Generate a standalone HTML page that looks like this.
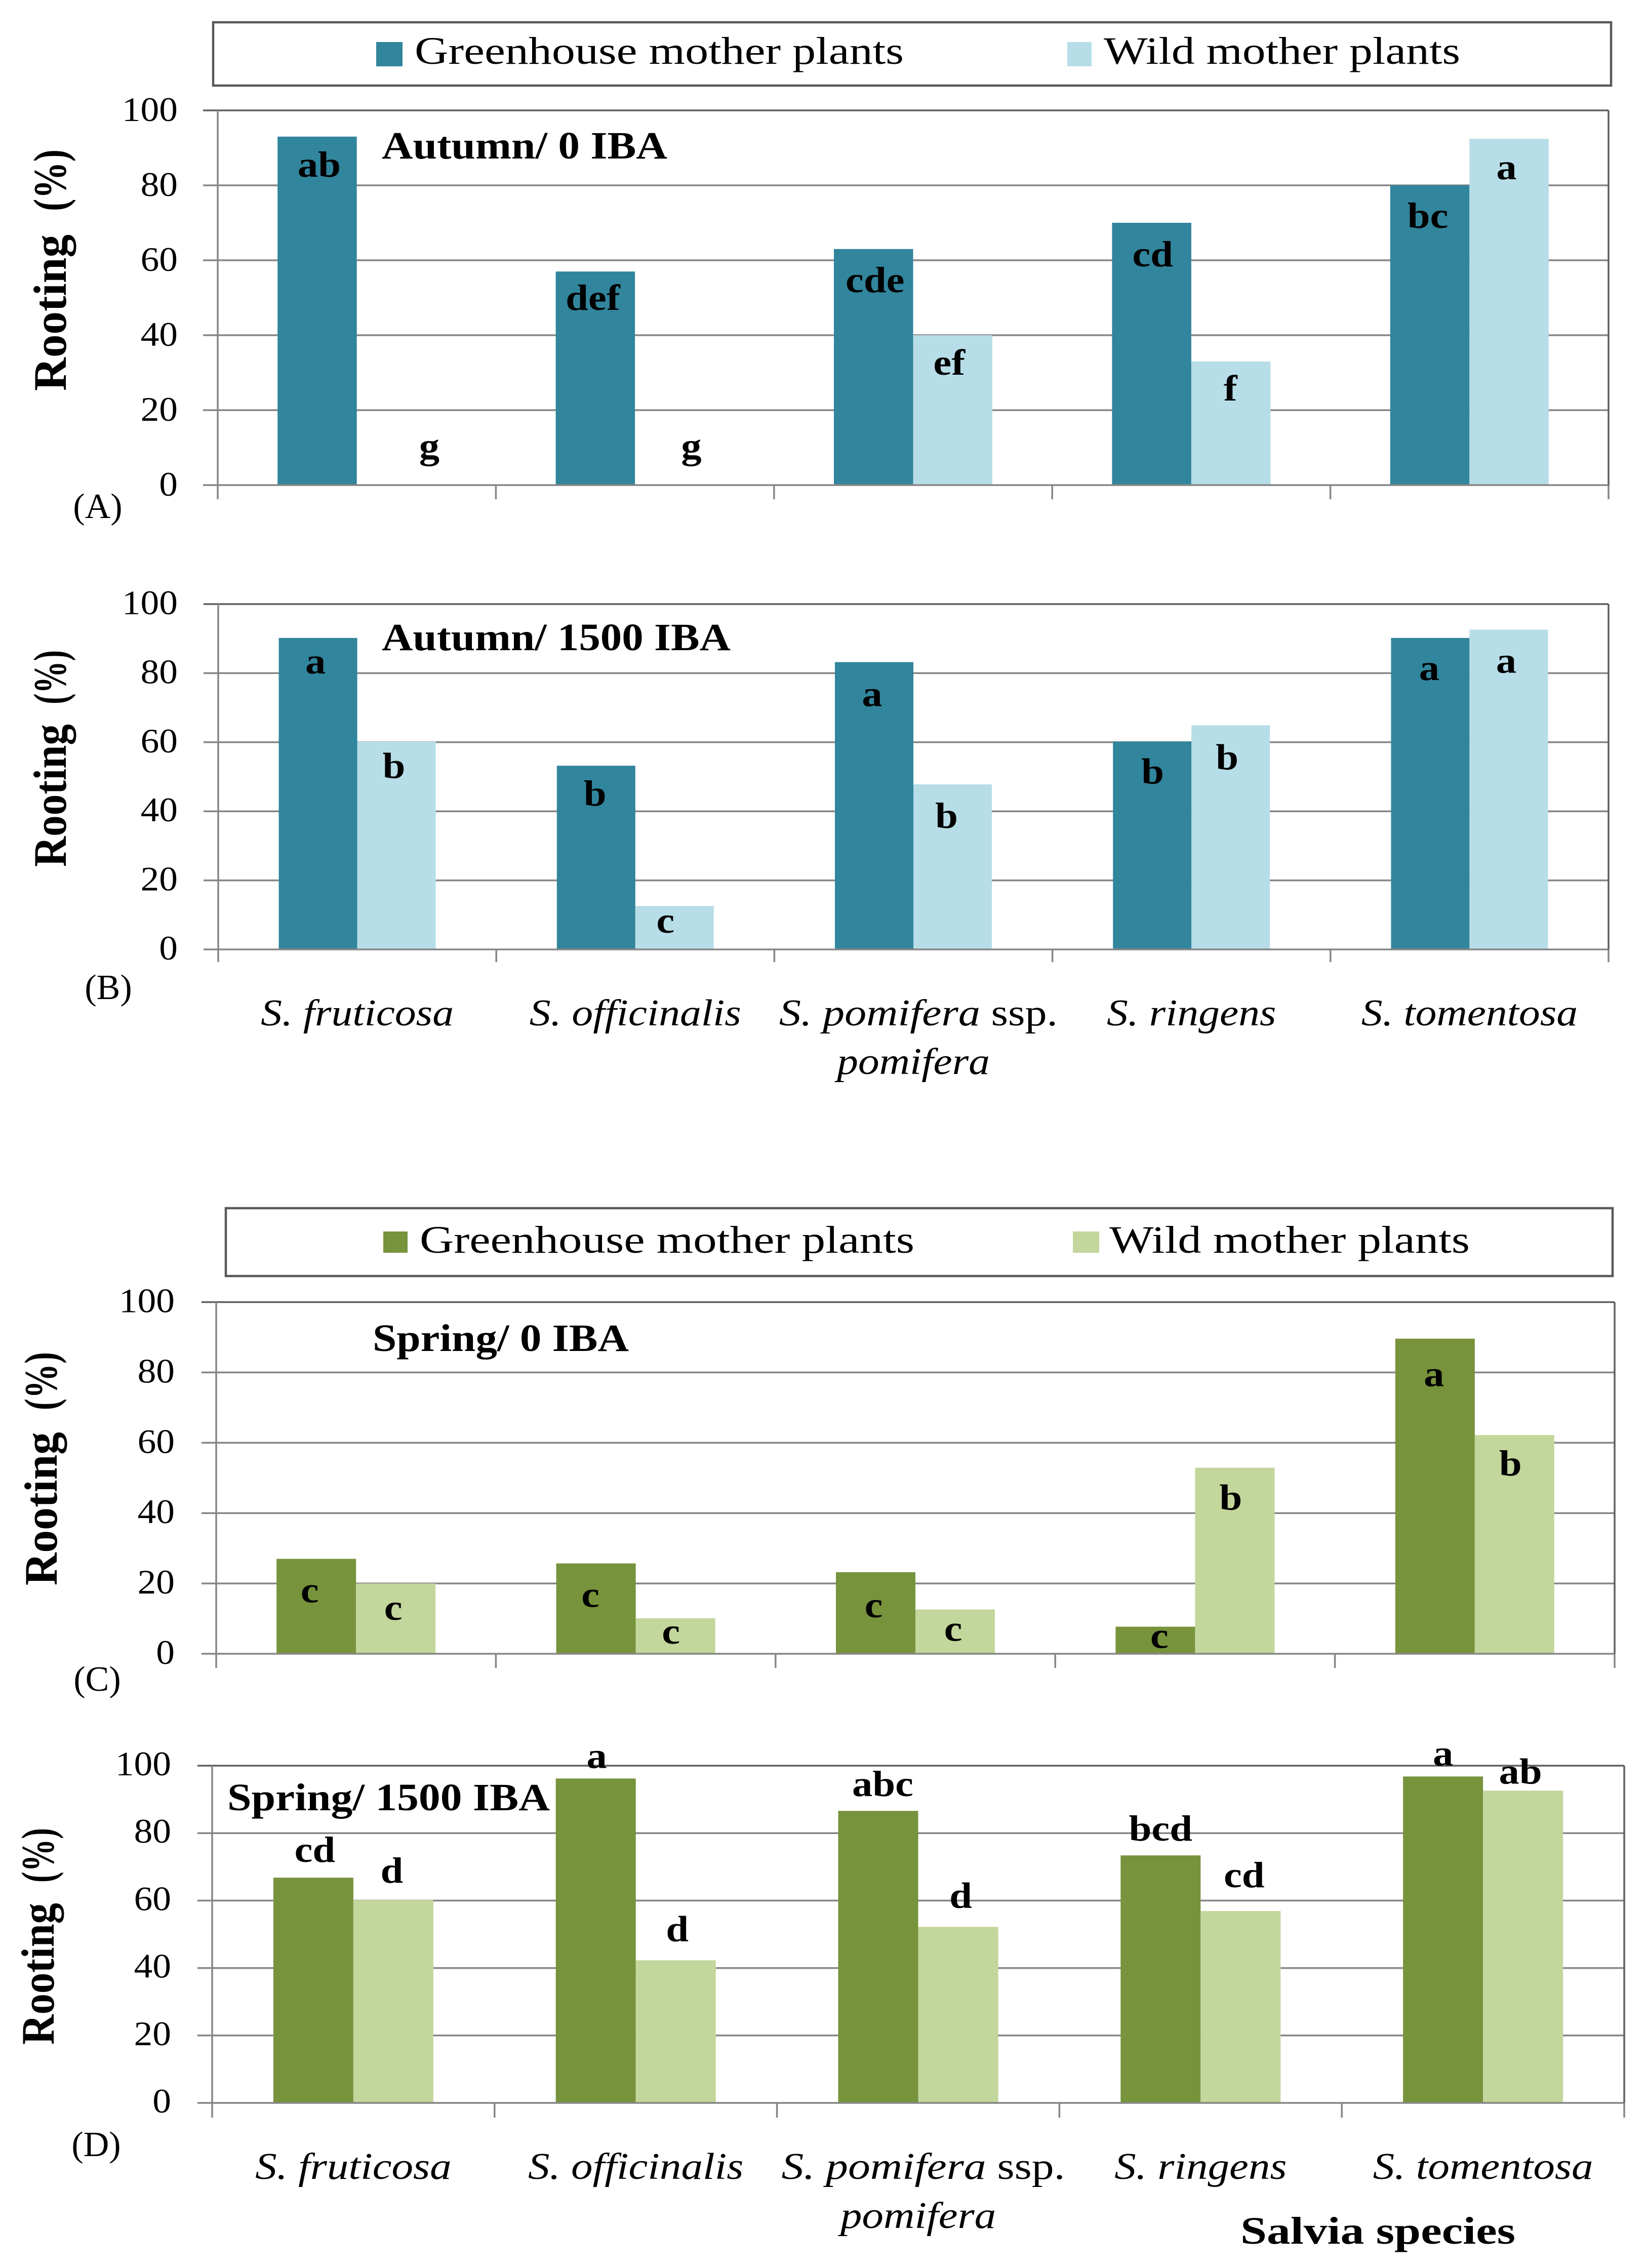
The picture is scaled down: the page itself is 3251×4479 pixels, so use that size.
<!DOCTYPE html>
<html lang="en">
<head>
<meta charset="utf-8">
<title>Rooting percentage of Salvia species</title>
<style>
  html, body { margin: 0; padding: 0; background: #ffffff; }
  svg { display: block; }
  text { font-family: "Liberation Serif", serif; fill: #000000; }
  .legend-text { font-size: 76px; }
  .panel-title { font-size: 76px; font-weight: bold; }
  .panel-tag { font-size: 70px; }
  .y-title { font-size: 92px; font-weight: bold; }
</style>
</head>
<body>
<svg id="figure" xmlns="http://www.w3.org/2000/svg" width="3251" height="4479" viewBox="0 0 3251 4479">
  <rect x="0" y="0" width="3251" height="4479" fill="#ffffff"/>

  <g>
    <rect x="421" y="44" width="2761" height="125" fill="#ffffff" stroke="#595959" stroke-width="4.5"/>
    <rect x="743" y="83" width="52" height="48" fill="#31859C"/>
    <text class="legend-text" x="819" y="126" textLength="966" lengthAdjust="spacingAndGlyphs">Greenhouse mother plants</text>
    <rect x="2108" y="83" width="48" height="48" fill="#B7DDE8"/>
    <text class="legend-text" x="2180" y="126" textLength="704" lengthAdjust="spacingAndGlyphs">Wild mother plants</text>
  </g>

  <g>
    <rect x="446" y="2386" width="2739" height="134" fill="#ffffff" stroke="#595959" stroke-width="4.5"/>
    <rect x="757" y="2432" width="48" height="42" fill="#77933C"/>
    <text class="legend-text" x="829" y="2474" textLength="977" lengthAdjust="spacingAndGlyphs">Greenhouse mother plants</text>
    <rect x="2119" y="2432" width="52" height="42" fill="#C3D69B"/>
    <text class="legend-text" x="2191" y="2474" textLength="712" lengthAdjust="spacingAndGlyphs">Wild mother plants</text>
  </g>

  <g id="panels"></g>

  <g>
    <text class="panel-title" x="754" y="313" textLength="564" lengthAdjust="spacingAndGlyphs">Autumn/ 0 IBA</text>
    <text class="panel-title" x="754" y="1284" textLength="689" lengthAdjust="spacingAndGlyphs">Autumn/ 1500 IBA</text>
    <text class="panel-title" x="736" y="2668" textLength="506" lengthAdjust="spacingAndGlyphs">Spring/ 0 IBA</text>
    <text class="panel-title" x="449" y="3575" textLength="637" lengthAdjust="spacingAndGlyphs">Spring/ 1500 IBA</text>

    <text class="panel-tag" x="193" y="1023" text-anchor="middle">(A)</text>
    <text class="panel-tag" x="214" y="1973" text-anchor="middle">(B)</text>
    <text class="panel-tag" x="192" y="3339" text-anchor="middle">(C)</text>
    <text class="panel-tag" x="190" y="4258" text-anchor="middle">(D)</text>

    <g>
      <text class="y-title" transform="translate(130,772) rotate(-90)" textLength="309" lengthAdjust="spacingAndGlyphs">Rooting</text>
      <text class="y-title" transform="translate(130,417) rotate(-90)" textLength="122" lengthAdjust="spacingAndGlyphs">(%)</text>
    </g>
    <g>
      <text class="y-title" transform="translate(130,1712) rotate(-90)" textLength="282" lengthAdjust="spacingAndGlyphs">Rooting</text>
      <text class="y-title" transform="translate(130,1391) rotate(-90)" textLength="107" lengthAdjust="spacingAndGlyphs">(%)</text>
    </g>
    <g>
      <text class="y-title" transform="translate(112,3131) rotate(-90)" textLength="303" lengthAdjust="spacingAndGlyphs">Rooting</text>
      <text class="y-title" transform="translate(112,2785) rotate(-90)" textLength="115" lengthAdjust="spacingAndGlyphs">(%)</text>
    </g>
    <g>
      <text class="y-title" transform="translate(106,4038) rotate(-90)" textLength="280" lengthAdjust="spacingAndGlyphs">Rooting</text>
      <text class="y-title" transform="translate(106,3718) rotate(-90)" textLength="108" lengthAdjust="spacingAndGlyphs">(%)</text>
    </g>

    <text class="panel-title" x="2450" y="4431" textLength="543" lengthAdjust="spacingAndGlyphs">Salvia species</text>
  </g>
</svg>

<script>
// ---- chart data ----
const categories = ["S. fruticosa", "S. officinalis", "S. pomifera ssp. pomifera", "S. ringens", "S. tomentosa"];
const yTicks = [0, 20, 40, 60, 80, 100];

const autumn0Greenhouse = [93, 57, 63, 70, 80];
const autumn0Wild = [0, 0, 40, 33, 92.4];
const autumn0GreenhouseLetters = ["ab", "def", "cde", "cd", "bc"];
const autumn0WildLetters = ["g", "g", "ef", "f", "a"];

const autumn1500Greenhouse = [90.2, 53.2, 83.2, 60.2, 90.2];
const autumn1500Wild = [60.2, 12.6, 47.8, 64.9, 92.6];
const autumn1500GreenhouseLetters = ["a", "b", "a", "b", "a"];
const autumn1500WildLetters = ["b", "c", "b", "b", "a"];

const spring0Greenhouse = [27, 25.7, 23.2, 7.7, 89.6];
const spring0Wild = [20, 10.1, 12.6, 52.9, 62.2];
const spring0GreenhouseLetters = ["c", "c", "c", "c", "a"];
const spring0WildLetters = ["c", "c", "c", "b", "b"];

const spring1500Greenhouse = [66.8, 96.2, 86.6, 73.4, 96.8];
const spring1500Wild = [60.2, 42.3, 52.2, 56.9, 92.6];
const spring1500GreenhouseLetters = ["cd", "a", "abc", "bcd", "a"];
const spring1500WildLetters = ["d", "d", "d", "cd", "ab"];

// ---- drawing ----
const SVG_NS = "http://www.w3.org/2000/svg";
const panelsRoot = document.getElementById("panels");
const GRID = "#868686";
const FRAME = "#5f5f5f";

function makeLine(parent, x1, y1, x2, y2, color, width, name) {
  const el = document.createElementNS(SVG_NS, "line");
  el.setAttribute("x1", x1);
  el.setAttribute("y1", y1);
  el.setAttribute("x2", x2);
  el.setAttribute("y2", y2);
  el.setAttribute("stroke", color);
  el.setAttribute("stroke-width", width);
  
  
  parent.appendChild(el);
  return el;
}

function makeText(parent, str, x, y, size, stretch, bold, italic, anchor, name) {
  const el = document.createElementNS(SVG_NS, "text");
  el.setAttribute("transform", "translate(" + x + "," + y + ") scale(" + stretch + ",1)");
  el.setAttribute("font-size", size);
  el.setAttribute("text-anchor", anchor);
  if (bold) el.setAttribute("font-weight", "bold");
  if (italic) el.setAttribute("font-style", "italic");
  el.textContent = str;
  
  
  parent.appendChild(el);
  return el;
}

function drawCategoryLabel(parent, category, x, p, name) {
  const marker = " ssp. ";
  const at = category.indexOf(marker);
  if (at < 0) {
    makeText(parent, category, x, p.labelBaseline, 74, p.labelStretch, false, true, "middle", name);
    return;
  }
  const first = makeText(parent, category.slice(0, at), x + 10, p.labelBaseline, 74, p.labelStretch * 1.03, false, true, "middle", name + "-line-1");
  const ssp = document.createElementNS(SVG_NS, "tspan");
  ssp.setAttribute("font-style", "normal");
  ssp.textContent = "\u00a0ssp.";
  first.appendChild(ssp);
  makeText(parent, category.slice(at + marker.length), x, p.labelBaseline + p.labelLineGap, 74, p.labelStretch, false, true, "middle", name + "-line-2");
}

function drawPanel(p) {
  const g = document.createElementNS(SVG_NS, "g");
  
  
  panelsRoot.appendChild(g);

  const yScale = function (v) { return p.bottom - (v / 100) * (p.bottom - p.top); };
  const bandWidth = (p.right - p.left) / categories.length;
  const bandStart = function (i) { return p.left + i * bandWidth; };
  const bandCenter = function (i) { return bandStart(i) + bandWidth / 2; };

  // gridlines and y tick labels
  yTicks.forEach(function (tick) {
    const y = yScale(tick);
    if (tick !== 0) {
      makeLine(g, p.left - 29, y, p.right, y, tick === 100 ? FRAME : GRID, 3.5, p.name + "-gridline-" + tick);
    }
    makeText(g, String(tick), p.tickLabelRight, y + p.tickLabelDrop, 68, 1.08, false, false, "end", p.name + "-y-tick-label-" + tick);
  });

  // bars
  function drawSeries(values, color, offsetIndex, seriesName) {
    values.forEach(function (v, i) {
      const x = offsetIndex === 0 ? bandCenter(i) - p.barWidth : bandCenter(i);
      const el = document.createElementNS(SVG_NS, "rect");
      el.setAttribute("x", x);
      el.setAttribute("y", yScale(v));
      el.setAttribute("width", p.barWidth);
      el.setAttribute("height", Math.max(0, p.bottom - yScale(v)));
      el.setAttribute("fill", color);
      
      
      g.appendChild(el);
    });
  }
  drawSeries(p.greenhouse, p.greenhouseColor, 0, "greenhouse");
  drawSeries(p.wild, p.wildColor, 1, "wild");

  // axes and frame
  makeLine(g, p.left - 29, p.bottom, p.right, p.bottom, GRID, 3.5, p.name + "-x-axis");
  makeLine(g, p.left, p.top, p.left, p.bottom + p.tickLength, GRID, 3.5, p.name + "-y-axis");
  makeLine(g, p.right, p.top, p.right, p.bottom, FRAME, 3.5, p.name + "-right-frame");
  for (let i = 1; i <= categories.length; i++) {
    makeLine(g, bandStart(i), p.bottom, bandStart(i), p.bottom + p.tickLength, GRID, 3.5, p.name + "-x-tick-" + i);
  }

  // significance letters, placed relative to each bar's top
  function drawLetters(letters, values, nudges, side, seriesName) {
    letters.forEach(function (letter, i) {
      const barCenter = bandCenter(i) + side * p.barWidth / 2;
      makeText(g, letter, barCenter + nudges[i][0], yScale(values[i]) + nudges[i][1], 72, 1.12, true, false, "middle",
        p.name + "-letter-" + seriesName + "-" + (i + 1));
    });
  }
  drawLetters(p.greenhouseLetters, p.greenhouse, p.greenhouseNudge, -1, "greenhouse");
  drawLetters(p.wildLetters, p.wild, p.wildNudge, 1, "wild");

  // category labels
  if (p.showCategories) {
    categories.forEach(function (category, i) {
      drawCategoryLabel(g, category, bandCenter(i), p, p.name + "-category-label-" + (i + 1));
    });
  }
}

drawPanel({
  name: "panel-a", left: 430, right: 3177, top: 218, bottom: 958, tickLength: 28, tickLabelRight: 351, tickLabelDrop: 21, barWidth: 156.5,
  greenhouse: autumn0Greenhouse, wild: autumn0Wild,
  greenhouseLetters: autumn0GreenhouseLetters, wildLetters: autumn0WildLetters,
  greenhouseColor: "#31859C", wildColor: "#B7DDE8",
  greenhouseNudge: [[4, 79], [-5, 76], [3, 85], [2, 86], [-4, 84]],
  wildNudge: [[65, -53], [33, -53], [-7, 78], [-1, 77], [-5, 80]],
  showCategories: false
});

drawPanel({
  name: "panel-b", left: 431, right: 3177, top: 1193, bottom: 1875, tickLength: 25, tickLabelRight: 351, tickLabelDrop: 20, barWidth: 155,
  greenhouse: autumn1500Greenhouse, wild: autumn1500Wild,
  greenhouseLetters: autumn1500GreenhouseLetters, wildLetters: autumn1500WildLetters,
  greenhouseColor: "#31859C", wildColor: "#B7DDE8",
  greenhouseNudge: [[-5, 70], [-2, 79], [-4, 87], [1, 83], [-2, 83]],
  wildNudge: [[-5, 72], [-18, 53], [-12, 86], [-7, 87], [-5, 85]],
  showCategories: true, labelBaseline: 2025, labelLineGap: 96, labelStretch: 1.13
});

drawPanel({
  name: "panel-c", left: 427, right: 3189, top: 2571.5, bottom: 3266, tickLength: 28, tickLabelRight: 345, tickLabelDrop: 20, barWidth: 157,
  greenhouse: spring0Greenhouse, wild: spring0Wild,
  greenhouseLetters: spring0GreenhouseLetters, wildLetters: spring0WildLetters,
  greenhouseColor: "#77933C", wildColor: "#C3D69B",
  greenhouseNudge: [[-13, 86], [-11, 86], [-4, 89], [8, 42], [-2, 94]],
  wildNudge: [[-5, 72], [-9, 50], [-4, 62], [-8, 83], [-8, 80]],
  showCategories: false
});

drawPanel({
  name: "panel-d", left: 419, right: 3208, top: 3487, bottom: 4153, tickLength: 29, tickLabelRight: 338, tickLabelDrop: 19, barWidth: 158,
  greenhouse: spring1500Greenhouse, wild: spring1500Wild,
  greenhouseLetters: spring1500GreenhouseLetters, wildLetters: spring1500WildLetters,
  greenhouseColor: "#77933C", wildColor: "#C3D69B",
  greenhouseNudge: [[3, -31], [2, -21], [9, -29], [0, -29], [0, -22]],
  wildNudge: [[-3, -34], [3, -38], [5, -38], [7, -47], [-5, -14]],
  showCategories: true, labelBaseline: 4303, labelLineGap: 97, labelStretch: 1.15
});
</script>
</body>
</html>
